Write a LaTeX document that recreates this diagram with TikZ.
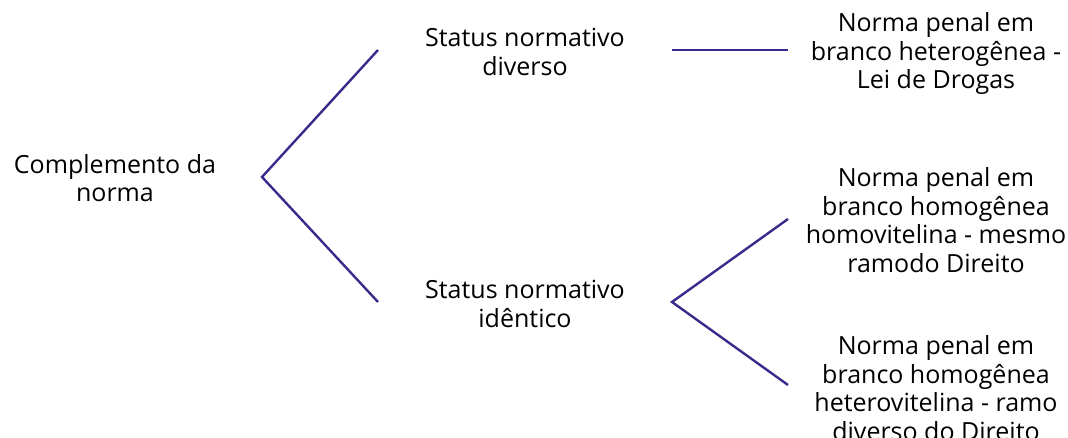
\documentclass[tikz,border=0pt]{standalone}
\usepackage{fontspec}
\setmainfont{Open Sans}
\definecolor{lineindigo}{HTML}{3A2A8C}
\begin{document}
\begin{tikzpicture}[x=1pt,y=-1pt,
  lbl/.style={align=center,font=\fontsize{25}{28.5}\selectfont,text=black,inner sep=0pt},
  conn/.style={draw=lineindigo,line width=2.4pt}]
\useasboundingbox (0,0) rectangle (1068,438);
\node[lbl] (root) at (115,178) {Complemento da\\norma};
\node[lbl] (div) at (525,52) {Status normativo\\diverso};
\node[lbl] (ide) at (525,304) {Status normativo\\idêntico};
\node[lbl] (het) at (936,54) {Norma penal em\\branco heterogênea -\\Lei de Drogas};
\node[lbl] (homo) at (936,220) {Norma penal em\\branco homogênea\\homovitelina - mesmo\\ramodo Direito};
\node[lbl] (hete) at (936,388) {Norma penal em\\branco homogênea\\heterovitelina - ramo\\diverso do Direito};
\coordinate (rv) at (262,177);
\coordinate (divL) at (378,50);
\coordinate (ideL) at (378,302);
\coordinate (divR) at (672,50);
\coordinate (hetL) at (788,50);
\coordinate (ideR) at (672,302);
\coordinate (homoL) at (788,219);
\coordinate (heteL) at (788,385);
\draw[conn] (divL) -- (rv) -- (ideL);
\draw[conn] (divR) -- (hetL);
\draw[conn] (homoL) -- (ideR) -- (heteL);
\end{tikzpicture}
\end{document}
